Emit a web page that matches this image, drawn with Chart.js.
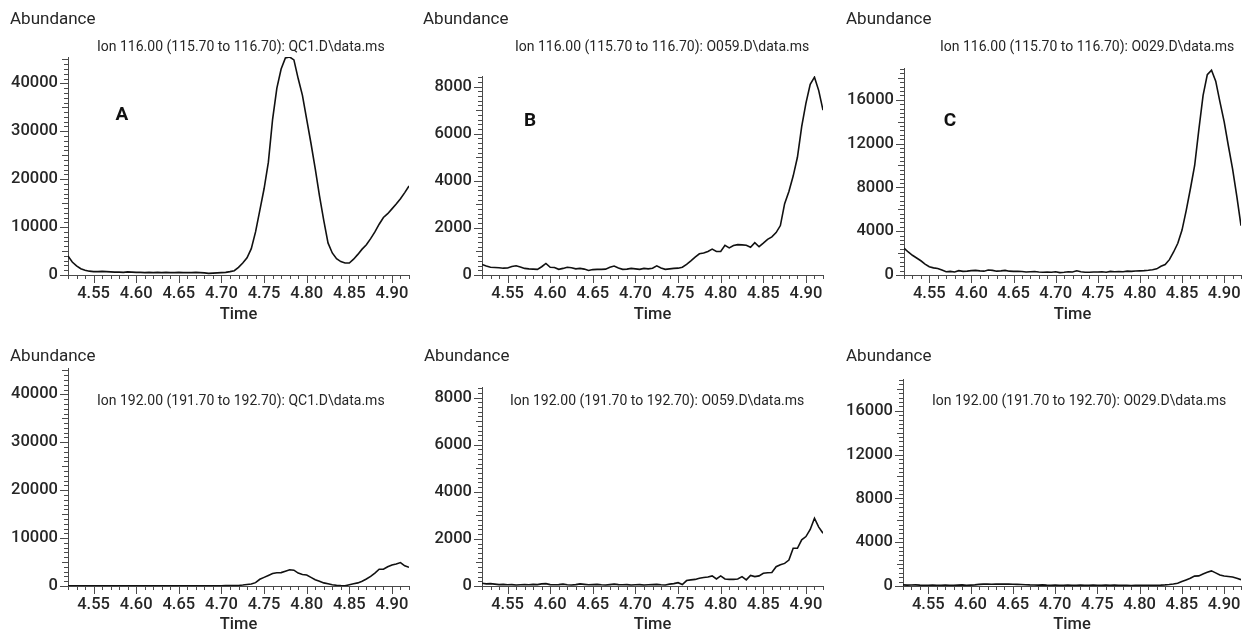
<!DOCTYPE html>
<html>
<head>
<meta charset="utf-8">
<script src="https://cdn.jsdelivr.net/npm/chart.js@4/dist/chart.umd.min.js"></script>
<style>
  html, body { margin: 0; padding: 0; background: #fff; }
  body { width: 1242px; height: 635px; position: relative; overflow: hidden; }
  .panel { position: absolute; }
</style>
</head>
<body>
<script>
// retention time axis (min)
const times = [
  4.520, 4.525, 4.530, 4.535, 4.540, 4.545, 4.550, 4.555, 4.560, 4.565,
  4.570, 4.575, 4.580, 4.585, 4.590, 4.595, 4.600, 4.605, 4.610, 4.615,
  4.620, 4.625, 4.630, 4.635, 4.640, 4.645, 4.650, 4.655, 4.660, 4.665,
  4.670, 4.675, 4.680, 4.685, 4.690, 4.695, 4.700, 4.705, 4.710, 4.715,
  4.720, 4.725, 4.730, 4.735, 4.740, 4.745, 4.750, 4.755, 4.760, 4.765,
  4.770, 4.775, 4.780, 4.785, 4.790, 4.795, 4.800, 4.805, 4.810, 4.815,
  4.820, 4.825, 4.830, 4.835, 4.840, 4.845, 4.850, 4.855, 4.860, 4.865,
  4.870, 4.875, 4.880, 4.885, 4.890, 4.895, 4.900, 4.905, 4.910, 4.915,
  4.920
];

// Ion 116 traces
const ion116QC1 = [
  4000, 2700, 1900, 1300, 1000, 800, 700, 700, 750, 700,
  650, 600, 600, 550, 650, 600, 550, 550, 500, 550,
  500, 550, 500, 550, 500, 500, 550, 500, 500, 500,
  550, 500, 450, 350, 400, 450, 500, 550, 700, 900,
  1600, 2500, 3600, 5500, 9000, 13500, 18000, 23500, 32500, 39000,
  43000, 45300, 45500, 44900, 41000, 37500, 32500, 27500, 22200, 16500,
  11400, 6700, 4600, 3400, 2800, 2500, 2500, 3300, 4300, 5400,
  6300, 7600, 9000, 10600, 12000, 12800, 13800, 14800, 15900, 17200,
  18600
];
const ion116O059 = [
  450, 380, 330, 320, 310, 290, 300, 360, 390, 340,
  280, 260, 250, 240, 350, 490, 330, 320, 240, 280,
  330, 310, 260, 280, 250, 190, 230, 240, 240, 250,
  330, 380, 300, 240, 250, 280, 260, 240, 280, 260,
  290, 390, 300, 240, 260, 280, 290, 330, 450, 600,
  760, 900, 930, 1000, 1100, 1000, 1000, 1260, 1150, 1250,
  1290, 1280, 1260, 1180, 1370, 1200, 1350, 1510, 1620, 1800,
  2100, 3030, 3550, 4200, 5000, 6300, 7300, 8100, 8400, 7830,
  7000
];
const ion116O029 = [
  2450, 2100, 1800, 1550, 1300, 1000, 750, 650, 600, 450,
  300, 330, 280, 400, 330, 350, 400, 420, 380, 350,
  450, 420, 350, 380, 420, 350, 330, 330, 320, 280,
  300, 320, 280, 250, 260, 250, 300, 220, 250, 300,
  280, 380, 300, 250, 250, 270, 280, 300, 250, 330,
  300, 320, 300, 350, 330, 360, 380, 400, 430, 480,
  560, 800, 950, 1400, 2100, 2900, 4100, 5900, 7900, 10000,
  13300, 16400, 18300, 18700, 17700, 15800, 14000, 11800, 9700, 7200,
  4500
];

// Ion 192 traces
const ion192QC1 = [
  60, 50, 50, 40, 50, 40, 30, 40, 50, 40,
  40, 30, 40, 40, 30, 40, 30, 30, 40, 30,
  30, 40, 30, 30, 40, 30, 30, 40, 30, 30,
  30, 40, 30, 30, 40, 30, 50, 80, 100, 120,
  120, 200, 300, 400, 700, 1400, 1800, 2200, 2600, 2750,
  2800, 3100, 3400, 3300, 2700, 2400, 2300, 1800, 1300, 1000,
  650, 450, 250, 150, 80, 50, 250, 450, 650, 1000,
  1450, 2000, 2700, 3500, 3500, 4000, 4400, 4600, 4900, 4200,
  3900
];
const ion192O059 = [
  120, 90, 100, 80, 60, 70, 50, 60, 40, 50,
  60, 50, 70, 60, 90, 100, 60, 50, 60, 80,
  50, 40, 60, 90, 70, 50, 60, 70, 50, 40,
  60, 80, 60, 50, 60, 40, 50, 60, 40, 50,
  60, 70, 50, 40, 80, 100, 140, 60, 230, 260,
  280, 330, 360, 380, 430, 300, 430, 300, 280, 280,
  300, 400, 260, 450, 400, 430, 540, 560, 570, 820,
  900, 960, 1100, 1600, 1600, 1960, 2100, 2400, 2880, 2500,
  2240
];
const ion192O029 = [
  100, 80, 90, 100, 80, 70, 60, 80, 70, 60,
  80, 70, 60, 80, 100, 60, 80, 100, 150, 170,
  180, 160, 170, 180, 170, 180, 160, 150, 140, 120,
  100, 90, 80, 100, 80, 70, 80, 60, 70, 80,
  60, 70, 80, 60, 70, 80, 60, 70, 80, 70,
  80, 60, 70, 60, 50, 60, 60, 70, 60, 70,
  70, 80, 100, 130, 180, 250, 400, 550, 700, 900,
  920, 1100, 1250, 1380, 1200, 1000, 910, 870, 820, 700,
  580
];

// tick labels
const timeLabels = [4.55, 4.60, 4.65, 4.70, 4.75, 4.80, 4.85, 4.90];
const yLabelsQC1 = [0, 10000, 20000, 30000, 40000];
const yLabelsO059 = [0, 2000, 4000, 6000, 8000];
const yLabelsO029 = [0, 4000, 8000, 12000, 16000];

const ionTitles = [
  'Ion 116.00 (115.70 to 116.70): QC1.D\\data.ms',
  'Ion 116.00 (115.70 to 116.70): O059.D\\data.ms',
  'Ion 116.00 (115.70 to 116.70): O029.D\\data.ms',
  'Ion 192.00 (191.70 to 192.70): QC1.D\\data.ms',
  'Ion 192.00 (191.70 to 192.70): O059.D\\data.ms',
  'Ion 192.00 (191.70 to 192.70): O029.D\\data.ms'
];
const panelLetters = ['A', 'B', 'C'];

const TEXT = '#262626';
const AXIS = '#4a4a4a';
const FONT = 'Roboto';
const X_MIN = 4.52, X_MAX = 4.92, X_STEP = 0.01;

// layout of the six panels (page pixels)
const panels = [
  { left: 0,   top: 0,   w: 420, h: 330, plotTop: 57,  axisY: 275, right: 409,  yMax: 45500, step: 1000, half: 5000, labels: yLabelsQC1,  values: ion116QC1,  title: ionTitles[0], tx: 97,  ty: 47,  ab: [10, 20],  letter: [panelLetters[0], 122, 115], timePad: 5 },
  { left: 414, top: 0,   w: 420, h: 330, plotTop: 76,  axisY: 275, right: 823,  yMax: 8450,  step: 200,  half: 1000, labels: yLabelsO059, values: ion116O059, title: ionTitles[1], tx: 515, ty: 47,  ab: [423, 20], letter: [panelLetters[1], 530, 121], timePad: 5 },
  { left: 836, top: 0,   w: 406, h: 330, plotTop: 68,  axisY: 275, right: 1242, yMax: 18900, step: 400,  half: 2000, labels: yLabelsO029, values: ion116O029, title: ionTitles[2], tx: 940, ty: 47,  ab: [846, 20], letter: [panelLetters[2], 950, 121], timePad: 5 },
  { left: 0,   top: 330, w: 420, h: 305, plotTop: 368, axisY: 586, right: 409,  yMax: 45500, step: 1000, half: 5000, labels: yLabelsQC1,  values: ion192QC1,  title: ionTitles[3], tx: 97,  ty: 401, ab: [10, 357],  letter: null, timePad: 0 },
  { left: 414, top: 330, w: 420, h: 305, plotTop: 387, axisY: 586, right: 823,  yMax: 8450,  step: 200,  half: 1000, labels: yLabelsO059, values: ion192O059, title: ionTitles[4], tx: 510, ty: 401, ab: [424, 357], letter: null, timePad: 0 },
  { left: 835, top: 330, w: 407, h: 305, plotTop: 379, axisY: 586, right: 1242, yMax: 18900, step: 400,  half: 2000, labels: yLabelsO029, values: ion192O029, title: ionTitles[5], tx: 932, ty: 401, ab: [846, 357], letter: null, timePad: 0 }
];

const near = (list, v, eps) => list.some(l => Math.abs(l - v) < eps);

// draws major / minor tick marks from the scales' own ticks
const tickMarks = {
  id: 'tickMarks',
  afterDraw(chart) {
    const ctx = chart.ctx;
    const xs = chart.scales.x, ys = chart.scales.y;
    const half = chart.options.plugins.tickMarks.half;
    ctx.save();
    ctx.strokeStyle = AXIS;
    ctx.lineWidth = 1;
    ctx.beginPath();
    xs.ticks.forEach(t => {
      const px = Math.round(xs.getPixelForValue(t.value)) + 0.5;
      const len = t.label ? 8 : 4;
      ctx.moveTo(px, xs.top);
      ctx.lineTo(px, xs.top + len);
    });
    ys.ticks.forEach(t => {
      const py = Math.round(ys.getPixelForValue(t.value)) + 0.5;
      const len = t.label ? 8 : (t.value % half === 0 ? 6 : 4);
      ctx.moveTo(ys.right - len, py);
      ctx.lineTo(ys.right, py);
    });
    ctx.stroke();
    ctx.restore();
  }
};

function textPlugin(p) {
  return {
    id: 'panelText',
    afterDraw(chart) {
      const ctx = chart.ctx;
      const put = (text, x, y, font, color, align) => {
        ctx.save();
        ctx.font = font;
        ctx.fillStyle = color;
        ctx.textAlign = align;
        ctx.textBaseline = 'middle';
        ctx.fillText(text, x - p.left, y - p.top);
        ctx.restore();
      };
      put('Abundance', p.ab[0], p.ab[1], `17px ${FONT}`, TEXT, 'left');
      put(p.title, p.tx, p.ty, `14px ${FONT}`, TEXT, 'left');
      if (p.letter) put(p.letter[0], p.letter[1], p.letter[2], `bold 19px ${FONT}`, '#111', 'center');
    }
  };
}

panels.forEach(p => {
  const div = document.createElement('div');
  div.className = 'panel';
  div.style.left = p.left + 'px';
  div.style.top = p.top + 'px';
  div.style.width = p.w + 'px';
  div.style.height = p.h + 'px';
  const canvas = document.createElement('canvas');
  div.appendChild(canvas);
  document.body.appendChild(div);

  const yWidth = 68;
  const xHeight = p.top + p.h - p.axisY;

  new Chart(canvas, {
    type: 'line',
    data: {
      datasets: [{
        data: times.map((t, i) => ({ x: t, y: p.values[i] })),
        borderColor: '#111',
        borderWidth: 1.6,
        pointRadius: 0,
        tension: 0,
        fill: false
      }]
    },
    options: {
      responsive: true,
      maintainAspectRatio: false,
      animation: false,
      layout: {
        padding: { top: p.plotTop - p.top, right: p.left + p.w - p.right, bottom: 0, left: 0 }
      },
      plugins: {
        legend: { display: false },
        tooltip: { enabled: false },
        tickMarks: { half: p.half }
      },
      scales: {
        x: {
          type: 'linear',
          min: X_MIN,
          max: X_MAX,
          grid: { display: false, drawTicks: true, tickLength: 8 },
          border: { display: true, color: AXIS, width: 1 },
          afterBuildTicks: s => {
            const n = Math.round((X_MAX - X_MIN) / X_STEP);
            s.ticks = Array.from({ length: n + 1 }, (_, i) => ({ value: Math.round((X_MIN + i * X_STEP) * 100) / 100 }));
          },
          ticks: {
            autoSkip: false,
            maxRotation: 0,
            padding: 1,
            color: TEXT,
            font: { family: FONT, size: 16.5, weight: '500' },
            callback: v => near(timeLabels, v, 1e-6) ? v.toFixed(2) : ''
          },
          title: {
            display: true,
            text: 'Time',
            color: TEXT,
            font: { family: FONT, size: 16.5, weight: '500' },
            padding: { top: 0, bottom: p.timePad }
          },
          afterFit: s => { s.height = xHeight; }
        },
        y: {
          type: 'linear',
          min: 0,
          max: p.yMax,
          grid: { display: false, drawTicks: true, tickLength: 8 },
          border: { display: true, color: AXIS, width: 1 },
          afterBuildTicks: s => {
            const n = Math.floor(p.yMax / p.step);
            s.ticks = Array.from({ length: n + 1 }, (_, i) => ({ value: i * p.step }));
          },
          ticks: {
            autoSkip: false,
            padding: 2,
            color: TEXT,
            font: { family: FONT, size: 16.5, weight: '500' },
            callback: v => near(p.labels, v, 0.5) ? String(Math.round(v)) : ''
          },
          afterFit: s => { s.width = yWidth; }
        }
      }
    },
    plugins: [tickMarks, textPlugin(p)]
  });
});
</script>
</body>
</html>
